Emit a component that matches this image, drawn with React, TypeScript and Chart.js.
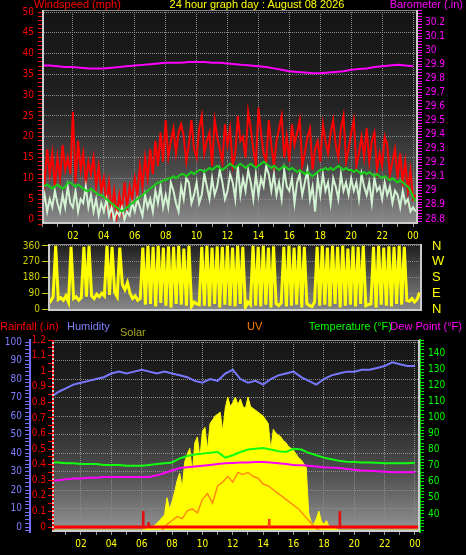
import React, { useEffect, useRef } from 'react';
import { Chart, registerables } from 'chart.js';

Chart.register(...registerables);

const FONT = "'Liberation Sans', Arial, sans-serif";
const NARROW = "'Liberation Sans Narrow', 'DejaVu Sans Condensed', 'Liberation Sans', sans-serif";

const titleText = '24 hour graph day : August 08 2026';

// sampling steps (hours)
const STEP10 = 1 / 6;
const STEP20 = 1 / 3;
const STEP30 = 0.5;

// ---------- top panel: wind (mph) every 10 min, barometer (in) every 30 min ----------
const windGust = [
  14, 9, 17, 11, 16, 8,
  15, 10, 18, 12, 15, 11,
  26, 9, 19, 12, 16, 9,
  14, 11, 15, 8, 13, 7,
  10, 4, 9, 2, 7, 1,
  6, 2, 9, 3, 8, 5,
  10, 6, 13, 8, 15, 10,
  17, 11, 19, 13, 21, 14,
  24, 15, 19, 22, 16, 21,
  23, 20, 14, 18, 24, 17,
  15, 22, 25, 16, 19, 21,
  13, 24, 20, 17, 14, 23,
  18, 22, 13, 16, 25, 19,
  20, 15, 26, 22, 17, 13,
  27, 21, 16, 14, 24, 18,
  13, 19, 22, 25, 15, 20,
  14, 23, 18, 21, 24, 13,
  16, 20, 22, 12, 17, 19,
  14, 23, 19, 16, 21, 24,
  18, 15, 22, 25, 14, 17,
  21, 24, 13, 16, 20, 15,
  22, 14, 19, 21, 12, 16,
  13, 20, 18, 11, 14, 17,
  10, 16, 9, 14, 7, 12,
  5, 6,
];

const windSpeed = [
  3, 6, 2, 5, 3, 7,
  4, 2, 6, 3, 8, 4,
  3, 7, 2, 5, 4, 8,
  3, 6, 2, 5, 1, 4,
  2, 5, 1, 3, 0, 2,
  1, 3, 0, 2, 1, 4,
  2, 5, 3, 1, 6, 3,
  5, 2, 7, 4, 8, 3,
  6, 3, 9, 7, 4, 2,
  8, 5, 10, 9, 4, 6,
  9, 4, 6, 11, 8, 5,
  10, 6, 8, 12, 9, 5,
  7, 11, 9, 5, 13, 6,
  10, 7, 12, 9, 5, 11,
  6, 10, 8, 13, 11, 7,
  11, 6, 9, 5, 12, 8,
  7, 10, 4, 9, 11, 6,
  9, 12, 5, 8, 2, 10,
  6, 11, 7, 9, 4, 10,
  8, 5, 11, 7, 9, 6,
  10, 7, 9, 5, 11, 8,
  6, 9, 4, 10, 7, 8,
  5, 9, 6, 8, 4, 7,
  6, 3, 7, 4, 5, 2,
  3, 2,
];

const windAverage = [
  8, 8.2, 8.5, 8, 7.5, 8,
  8.5, 8, 7.5, 8, 9, 9,
  8.5, 8, 8.5, 8, 7.5, 7,
  7, 7.5, 7, 6.5, 6, 6,
  5.5, 5, 4.5, 4, 3.5, 3,
  2.5, 2, 2.5, 3, 3.5, 4,
  4.5, 5, 5.5, 6, 6.5, 7,
  7.5, 8, 8.5, 9, 9, 9.5,
  9.5, 10, 10, 10.5, 10, 10.5,
  11, 11, 10.5, 11, 11.5, 11,
  11.5, 12, 12, 11.5, 12, 12.5,
  12, 12.5, 13, 12.5, 12, 12.5,
  13, 13.5, 13, 12.5, 13, 13.5,
  13, 12.5, 13, 13.5, 13, 12.5,
  13, 13.5, 14, 13.5, 13, 12.5,
  13, 12.5, 12, 12.5, 13, 12.5,
  12, 12.5, 12, 11.5, 12, 11.5,
  11, 11.5, 11, 10.5, 11, 11.5,
  12, 12, 12.5, 12, 12.5, 12,
  12.5, 13, 12.5, 12, 12.5, 12,
  12, 11.5, 12, 11.5, 11, 11.5,
  11, 11.5, 11, 10.5, 11, 10.5,
  10, 10.5, 10, 9.5, 10, 9.5,
  9, 9.5, 9, 8.5, 8, 7,
  5.5, 4.5,
];

const barometer = [
  29.89, 29.89, 29.885, 29.88, 29.88, 29.875, 29.87, 29.87, 29.87, 29.875,
  29.88, 29.885, 29.89, 29.895, 29.9, 29.905, 29.91, 29.91, 29.91, 29.915,
  29.915, 29.915, 29.91, 29.91, 29.905, 29.9, 29.895, 29.89, 29.885, 29.88,
  29.87, 29.86, 29.85, 29.845, 29.84, 29.835, 29.835, 29.84, 29.845, 29.85,
  29.86, 29.865, 29.87, 29.88, 29.885, 29.89, 29.895, 29.89, 29.885,
];

// ---------- middle panel: wind direction (degrees) every 10 min ----------
const windDirection = [
  60, 45, 70, 360, 55, 65,
  50, 75, 40, 355, 60, 70,
  50, 65, 355, 70, 360, 75,
  60, 85, 70, 90, 75, 360,
  80, 355, 95, 70, 350, 140,
  110, 150, 90, 60, 75, 50,
  60, 350, 25, 360, 30, 355,
  15, 360, 35, 350, 20, 358,
  10, 355, 30, 360, 25, 345,
  20, 360, 15, 40, 30, 25,
  355, 20, 360, 15, 350, 30,
  358, 10, 355, 25, 360, 20,
  350, 15, 360, 30, 355, 10,
  40, 25, 360, 20, 355, 15,
  360, 25, 350, 10, 358, 30,
  20, 35, 355, 15, 360, 20,
  350, 25, 360, 10, 355, 30,
  20, 15, 40, 355, 20, 360,
  25, 350, 15, 360, 30, 355,
  10, 360, 20, 345, 25, 358,
  15, 355, 30, 360, 20, 25,
  30, 355, 10, 360, 25, 350,
  20, 358, 15, 355, 30, 360,
  25, 355, 50, 45, 60, 40,
  55, 95,
];

// ---------- bottom panel ----------
const humidity = [
  70, 73, 75, 77, 78, 79, 80, 81, 83, 84,
  83, 84, 85, 84, 83, 84, 83, 82, 81, 79,
  78, 80, 79, 83, 85, 80, 78, 79, 77, 80,
  82, 83, 84, 81, 79, 77, 80, 82, 83, 84,
  84, 85, 85, 86, 87, 89, 88, 87, 87,
];

const temperature = [
  72, 72, 71.5, 71.5, 71, 71, 71, 70.5, 70.5, 70.5,
  70, 70, 70, 70.5, 71, 71.5, 72, 74.5, 76, 77,
  77.5, 78, 78.5, 75, 76.5, 78.5, 80, 80.5, 81, 80,
  79, 78.5, 80.5, 80, 78, 76.5, 75, 74, 73, 72.5,
  72.3, 72, 72, 71.8, 71.5, 71.5, 71.5, 71.5, 71.8,
];

const dewPoint = [
  60.7, 61, 61.5, 62, 62, 62.5, 62.5, 63, 63, 63,
  63, 63, 63, 63, 64, 65.5, 67, 68.5, 69, 69.5,
  70, 70.5, 71, 71.5, 71.7, 72, 72, 72.3, 72.3, 72,
  71.5, 71, 70.5, 70.2, 70, 69.5, 69, 68.8, 68.5, 68,
  67.5, 67, 66.8, 66.5, 66.3, 66, 66, 66, 66,
];

const solar = [
  0, 0, 0, 0, 0, 0,
  0, 0, 0, 0, 0, 0,
  0, 0, 0, 0, 0, 0,
  0, 0, 0, 0, 0, 0,
  0, 0, 0, 0, 0, 0,
  0, 0, 0, 0, 0, 0,
  0, 3, 8, 12, 18, 25,
  35, 50, 65, 80, 170, 110,
  150, 200, 260, 300, 220, 360,
  400, 430, 300, 460, 490, 380,
  520, 540, 420, 560, 580, 600,
  610, 620, 520, 640, 700, 650,
  670, 700, 660, 690, 650, 640,
  700, 650, 640, 630, 620, 610,
  600, 580, 560, 420, 530, 510,
  500, 490, 470, 460, 440, 430,
  420, 400, 380, 370, 350, 330,
  90, 40, 30, 60, 100, 45,
  30, 50, 20, 15, 10, 5,
  0, 0, 0, 0, 0, 0,
  0, 0, 0, 0, 0, 0,
  0, 0, 0, 0, 0, 0,
  0, 0, 0, 0, 0, 0,
  0, 0, 0, 0, 0, 0,
  0, 0,
];

const uvIndex = [
  0, 0, 0, 0, 0, 0, 0, 0, 0, 0, 0,
  0, 0, 0, 0, 0, 0, 0, 0, 0, 0, 0,
  0.1, 0.4, 0.6, 0.8, 0.7, 1.1, 1.2, 1.0, 1.7, 2.0, 1.5,
  2.4, 2.6, 2.9, 2.6, 3.1, 3.0, 3.1, 2.9, 2.8, 2.5, 2.4,
  2.2, 2.0, 1.8, 1.6, 1.4, 1.2, 0.9, 0.6, 0.3, 0.1,
  0, 0, 0, 0, 0, 0, 0, 0, 0, 0,
  0, 0, 0, 0, 0, 0, 0, 0, 0,
];

const rainTotalHours = [0, 24.4];
const rainTotalValues = [0, 0];
const rainSpikeHours = [6.1, 6.45, 14.4, 19.05];
const rainSpikeValues = [0.1, 0.03, 0.05, 0.1];

// ---------- tick labels ----------
const hourTicks = [2, 4, 6, 8, 10, 12, 14, 16, 18, 20, 22, 24];
const hourTickLabels = ['02', '04', '06', '08', '10', '12', '14', '16', '18', '20', '22', '00'];
const dirTicks = [0, 90, 180, 270, 360];
const dirTickLabels = ['N', 'E', 'S', 'W', 'N'];

const series = (vals: number[], step: number) => vals.map((v, i) => ({ x: i * step, y: v }));
const paired = (xs: number[], ys: number[]) => xs.map((x, i) => ({ x, y: ys[i] }));

const GRID = '#8c8c8c';
const CLEAR = 'rgba(0,0,0,0)';
const TICK_FONT = { family: NARROW, size: 10 };
const onStep = (v: number, step: number) => Math.abs(v / step - Math.round(v / step)) < 1e-6;
const fmt1 = (v: number) => String(Math.round(v * 10) / 10);

// fix axis box width and drop the automatic end-label padding
const fixWidth = (w: number) => (s: any) => {
  s.width = w;
  s.paddingTop = 0;
  s.paddingBottom = 0;
};

function makePanelPlugin(id: string, stops: [number, string][], leftDots: string | null) {
  return {
    id,
    beforeDraw(chart: any) {
      const { ctx, chartArea: a } = chart;
      const g = ctx.createLinearGradient(0, a.top, 0, a.bottom);
      stops.forEach(([p, c]) => g.addColorStop(p, c));
      ctx.save();
      ctx.fillStyle = g;
      ctx.fillRect(a.left, a.top, a.right - a.left, a.bottom - a.top);
      ctx.restore();
    },
    afterDatasetsDraw(chart: any) {
      const { ctx, chartArea: a } = chart;
      ctx.save();
      ctx.strokeStyle = '#8a8a8a';
      ctx.lineWidth = 1;
      ctx.beginPath();
      ctx.moveTo(a.left, a.top + 0.5);
      ctx.lineTo(a.right, a.top + 0.5);
      ctx.stroke();
      ctx.strokeStyle = '#cccccc';
      ctx.lineWidth = 2;
      ctx.beginPath();
      ctx.moveTo(a.left + 1, a.top);
      ctx.lineTo(a.left + 1, a.bottom);
      ctx.moveTo(a.left, a.bottom - 1);
      ctx.lineTo(a.right, a.bottom - 1);
      ctx.moveTo(a.right - 1, a.top);
      ctx.lineTo(a.right - 1, a.bottom);
      ctx.stroke();
      if (leftDots) {
        ctx.strokeStyle = leftDots;
        ctx.setLineDash([2, 2]);
        ctx.beginPath();
        ctx.moveTo(a.left + 1, a.top);
        ctx.lineTo(a.left + 1, a.bottom);
        ctx.stroke();
      }
      ctx.restore();
    },
  };
}

function hourAxis(min: number, max: number, height: number, show: boolean) {
  return {
    type: 'linear',
    position: 'bottom',
    display: show,
    min,
    max,
    offset: false,
    afterFit: (s: any) => { s.height = height; },
    border: { display: false, dash: [1, 1] },
    grid: {
      offset: false,
      color: (c: any) => (c.tick && hourTicks.includes(c.tick.value) ? GRID : CLEAR),
      tickColor: '#9a9a9a',
      tickLength: 3,
      lineWidth: 1,
    },
    ticks: {
      stepSize: 1,
      autoSkip: false,
      maxRotation: 0,
      includeBounds: false,
      padding: 3,
      color: '#ffff00',
      font: TICK_FONT,
      callback: (v: number) => {
        const i = hourTicks.indexOf(v);
        return i >= 0 ? hourTickLabels[i] : '';
      },
    },
  };
}

const baseOptions = {
  animation: false,
  responsive: false,
  elements: { point: { radius: 0 }, line: { tension: 0 } },
};

function buildTop(): any {
  return {
    type: 'line',
    data: {
      datasets: [
        { label: 'Barometer', data: series(barometer, STEP30), yAxisID: 'yBaro', borderColor: '#ff00ff', borderWidth: 2, order: 0 },
        { label: 'Average wind', data: series(windAverage, STEP10), yAxisID: 'yWind', borderColor: '#18d018', borderWidth: 2, order: 1 },
        { label: 'Wind speed', data: series(windSpeed, STEP10), yAxisID: 'yWind', borderColor: '#d2f2d2', borderWidth: 2, order: 2 },
        { label: 'Wind gust', data: series(windGust, STEP10), yAxisID: 'yWind', borderColor: '#ff0000', borderWidth: 2, order: 3 },
      ],
    },
    options: {
      ...baseOptions,
      layout: { padding: { top: 10, left: 0, right: 0, bottom: 0 } },
      plugins: { legend: { display: false }, tooltip: { enabled: false } },
      scales: {
        x: hourAxis(0, 24.32, 16, true),
        yWind: {
          type: 'linear', position: 'left', min: -1, max: 50.5,
          afterFit: fixWidth(42),
          border: { display: false, dash: [1, 1] },
          grid: { color: (c: any) => (c.tick && onStep(c.tick.value, 5) && c.tick.value > 0 ? GRID : CLEAR), tickColor: '#ff0000', tickLength: 4 },
          ticks: {
            stepSize: 1, autoSkip: false, includeBounds: false, padding: 4, color: '#ff0000',
            font: TICK_FONT,
            callback: (v: number) => (onStep(v, 5) && v >= 0 ? String(v) : ''),
          },
        },
        yBaro: {
          type: 'linear', position: 'right', min: 28.764, max: 30.285,
          afterFit: fixWidth(48),
          border: { display: false },
          grid: { drawOnChartArea: false, tickColor: '#ff00ff', tickLength: 4 },
          ticks: {
            stepSize: 0.02, autoSkip: false, includeBounds: false, padding: 3, color: '#ff00ff',
            font: TICK_FONT,
            callback: (v: number) => (onStep(v, 0.1) && v >= 28.79 && v <= 30.21 ? fmt1(v) : ''),
          },
        },
      },
    },
    plugins: [makePanelPlugin('panelTop', [[0, '#141414'], [0.45, '#222222'], [0.75, '#4a4a4a'], [1, '#8c8c8c']], null)],
  };
}

function buildMid(): any {
  return {
    type: 'line',
    data: {
      datasets: [
        { label: 'Wind direction', data: series(windDirection, STEP10), yAxisID: 'yDir', borderColor: '#ffff00', borderWidth: 3 },
      ],
    },
    options: {
      ...baseOptions,
      layout: { padding: { top: 4, left: 0, right: 0, bottom: 7 } },
      plugins: { legend: { display: false }, tooltip: { enabled: false } },
      scales: {
        x: { type: 'linear', display: false, min: 0, max: 24.32 },
        yDir: {
          type: 'linear', position: 'left', min: -11, max: 371,
          afterFit: fixWidth(48),
          border: { display: false, dash: [1, 1] },
          grid: { color: (c: any) => (c.tick && c.tick.value > 0 ? GRID : CLEAR), tickColor: '#c8c800', tickLength: 6 },
          ticks: {
            stepSize: 90, autoSkip: false, includeBounds: false, padding: 2, color: '#d0d000',
            font: TICK_FONT,
          },
        },
        yCompass: {
          type: 'linear', position: 'right', min: -11, max: 371,
          afterFit: fixWidth(44),
          border: { display: false },
          grid: { drawOnChartArea: false, drawTicks: false },
          ticks: {
            stepSize: 90, autoSkip: false, includeBounds: false, padding: 10, color: '#ffff00',
            font: { family: FONT, size: 13 },
            callback: (v: number) => {
              const i = dirTicks.indexOf(v);
              return i >= 0 ? dirTickLabels[i] : '';
            },
          },
        },
      },
    },
    plugins: [makePanelPlugin('panelMid', [[0, '#1e1e1e'], [1, '#8a8a8a']], null)],
  };
}

function buildBottom(): any {
  return {
    type: 'line',
    data: {
      datasets: [
        { type: 'bar', label: 'Rain rate', data: paired(rainSpikeHours, rainSpikeValues), yAxisID: 'yRain', backgroundColor: ['#e01010', '#e01010', '#ff4010', '#e01010'], barThickness: 2, grouped: false, order: 0 },
        { label: 'Rainfall', data: paired(rainTotalHours, rainTotalValues), yAxisID: 'yRain', borderColor: '#ff0000', borderWidth: 3, order: 1 },
        { label: 'Humidity', data: series(humidity, STEP30), yAxisID: 'yHum', borderColor: '#7878ff', borderWidth: 2, order: 2 },
        { label: 'Temperature', data: series(temperature, STEP30), yAxisID: 'yTemp', borderColor: '#10ff10', borderWidth: 2, order: 3 },
        { label: 'Dew Point', data: series(dewPoint, STEP30), yAxisID: 'yTemp', borderColor: '#ff00ff', borderWidth: 2, order: 4 },
        { label: 'UV', data: series(uvIndex, STEP20), yAxisID: 'yUV', borderColor: '#ff8c10', borderWidth: 1.5, order: 5 },
        { label: 'Solar', data: series(solar, STEP10), yAxisID: 'ySolar', borderColor: '#ffff00', backgroundColor: '#ffff00', borderWidth: 1, fill: 'origin', order: 6 },
      ],
    },
    options: {
      ...baseOptions,
      layout: { padding: { top: 20, left: 0, right: 0, bottom: 0 } },
      plugins: { legend: { display: false }, tooltip: { enabled: false }, filler: { propagate: false } },
      scales: {
        x: hourAxis(0.09, 24.33, 23, true),
        yHum: {
          type: 'linear', position: 'left', weight: 10, min: -2.7, max: 101.1,
          afterFit: fixWidth(30),
          border: { display: true, color: '#7070ff', width: 2, dash: [1, 1] },
          grid: { color: (c: any) => (c.tick && onStep(c.tick.value, 10) && c.tick.value > 0 ? GRID : CLEAR), tickColor: '#7070ff', tickLength: 5 },
          ticks: {
            stepSize: 2, autoSkip: false, includeBounds: false, padding: 3, color: '#7f7fff',
            font: TICK_FONT,
            callback: (v: number) => (onStep(v, 10) && v >= 0 ? String(v) : ''),
          },
        },
        yRain: {
          type: 'linear', position: 'left', weight: 0, min: -0.032, max: 1.2,
          afterFit: fixWidth(22),
          border: { display: false },
          grid: { drawOnChartArea: false, tickColor: '#ff0000', tickLength: 4 },
          ticks: {
            stepSize: 0.05, autoSkip: false, includeBounds: false, padding: 2, color: '#ff0000',
            font: TICK_FONT,
            callback: (v: number) => (onStep(v, 0.1) && v >= 0 ? fmt1(v) : ''),
          },
        },
        yTemp: {
          type: 'linear', position: 'right', min: 28.8, max: 148.1, z: 1,
          afterFit: fixWidth(46),
          border: { display: true, color: '#00d000', width: 2 },
          grid: { drawOnChartArea: false, tickColor: '#00e000', tickLength: 4 },
          ticks: {
            stepSize: 2, autoSkip: false, includeBounds: false, padding: 4, color: '#00ff00',
            font: TICK_FONT,
            callback: (v: number) => (onStep(v, 10) && v >= 40 && v <= 140 ? String(v) : ''),
          },
        },
        ySolar: { type: 'linear', display: false, min: -10, max: 1000 },
        yUV: { type: 'linear', display: false, min: 0, max: 10 },
      },
    },
    plugins: [makePanelPlugin('panelBottom', [[0, '#161616'], [0.4, '#262626'], [0.7, '#505050'], [1, '#959595']], '#ff0000')],
  };
}

function ChartCanvas({ top, height, build }: { top: number; height: number; build: () => any }) {
  const ref = useRef<HTMLCanvasElement | null>(null);
  useEffect(() => {
    if (!ref.current) return;
    const chart = new Chart(ref.current, build());
    return () => chart.destroy();
  }, [build]);
  return (
    <canvas
      ref={ref}
      width={466}
      height={height}
      style={{ position: 'absolute', left: 0, top, width: 466, height, display: 'block' }}
    />
  );
}

function Label({ text, color, left, right, top, center }: { text: string; color: string; left?: number; right?: number; top: number; center?: boolean }) {
  const style: React.CSSProperties = {
    position: 'absolute',
    top,
    color,
    font: `11px ${FONT}`,
    lineHeight: '13px',
    whiteSpace: 'nowrap',
  };
  if (left !== undefined) style.left = left;
  if (right !== undefined) style.right = right;
  if (center) style.transform = 'translateX(-50%)';
  return <span style={style}>{text}</span>;
}

export default function App() {
  return (
    <div style={{ position: 'absolute', left: 0, top: 0, width: 466, height: 555, background: '#000', overflow: 'hidden' }}>
      <ChartCanvas top={0} height={240} build={buildTop} />
      <ChartCanvas top={240} height={78} build={buildMid} />
      <ChartCanvas top={320} height={235} build={buildBottom} />
      <Label text="Windspeed (mph)" color="#ff0000" left={34} top={-2} />
      <Label text={titleText} color="#ffff00" left={257} top={-2} center />
      <Label text="Barometer (.in)" color="#ff00ff" right={3} top={-2} />
      <Label text="Rainfall (.in)" color="#ff0000" left={0} top={320} />
      <Label text="Humidity" color="#8080ff" left={67} top={320} />
      <Label text="Solar" color="#a8a820" left={120} top={326} />
      <Label text="UV" color="#ff8000" left={247} top={320} />
      <Label text="Temperature (°F)" color="#00ff00" right={74} top={320} />
      <Label text="Dew Point (°F)" color="#ff00ff" right={4} top={320} />
    </div>
  );
}
